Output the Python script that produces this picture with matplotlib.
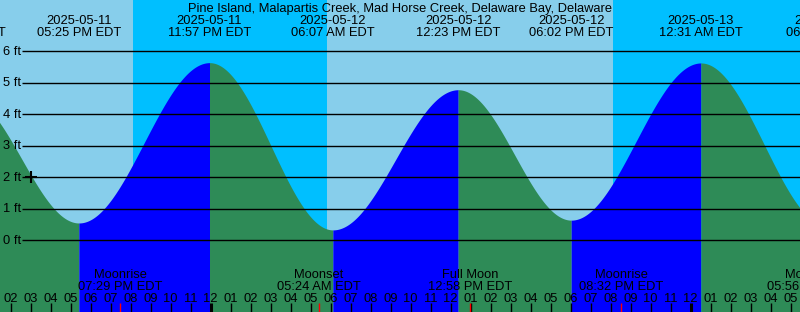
import numpy as np
import pandas as pd
import matplotlib
matplotlib.use('Agg')
import matplotlib.pyplot as plt
import matplotlib.transforms as mtransforms

plt.rcParams['font.family'] = ['Liberation Sans', 'DejaVu Sans']
FS = 9.3

station = 'Pine Island, Malapartis Creek, Mad Horse Creek, Delaware Bay, Delaware'

# tide extremes (high / low)
tide_times = ['2025-05-11 11:43', '2025-05-11 17:25', '2025-05-11 23:57', '2025-05-12 06:07',
              '2025-05-12 12:23', '2025-05-12 18:02', '2025-05-13 00:31', '2025-05-13 06:51']
tide_heights = [4.60, 0.55, 5.64, 0.33, 4.78, 0.64, 5.63, 0.45]

sunsets = ['2025-05-11 20:06', '2025-05-12 20:07']
sunrises = ['2025-05-12 05:50', '2025-05-13 05:49']

moon_times = ['2025-05-11 19:29', '2025-05-12 05:24', '2025-05-12 12:58',
              '2025-05-12 20:32', '2025-05-13 05:56']
moon_names = ['Moonrise', 'Moonset', 'Full Moon', 'Moonrise', 'Moonset']

ft_levels = [0, 1, 2, 3, 4, 5, 6]
now_time = '2025-05-11 15:00'
now_height = 2.0

t0 = pd.Timestamp('2025-05-12 00:00')
W, H = 800, 312
x0px, pxh = 210.5, 20.0      # midnight pixel, pixels per hour
y0px, pxft = 240.3, 31.5     # 0 ft pixel, pixels per foot


def hrs(s):
    return (pd.Timestamp(s) - t0) / pd.Timedelta(hours=1)


def yfrac(p):
    return 1 - p / H


fig = plt.figure(figsize=(W / 100, H / 100), dpi=100)
ax = fig.add_axes([0, 0, 1, 1])
xmin, xmax = -x0px / pxh, (W - x0px) / pxh
ymin, ymax = -(H - y0px) / pxft, y0px / pxft
ax.set_xlim(xmin, xmax)
ax.set_ylim(ymin, ymax)
ax.axis('off')
ax.axvspan(xmin, xmax, color='#87CEEB', lw=0)
for s, r in zip(sunsets, sunrises):
    ax.axvspan(hrs(s), hrs(r), color='#00BFFF', lw=0)

tt = [hrs(s) for s in tide_times]
for i in range(len(tt) - 1):
    t = np.linspace(tt[i], tt[i + 1], 300)
    h1, h2 = tide_heights[i], tide_heights[i + 1]
    h = h2 + (h1 - h2) * (1 + np.cos(np.pi * (t - tt[i]) / (tt[i + 1] - tt[i]))) / 2
    col = '#0000FF' if h2 > h1 else '#2E8B57'
    ax.fill_between(t, ymin, h, color=col, lw=0)

xt = mtransforms.blended_transform_factory(ax.transAxes, ax.transData)
ax.hlines(ft_levels, 22 / W, 1, transform=xt, color='black', lw=1.0)
for v in ft_levels:
    ax.text(3 / W, v - 3.5 / pxft, '%d ft' % v, transform=xt, fontsize=FS, va='baseline', ha='left')

ax.plot(hrs(now_time), now_height, marker='+', color='black', ms=8, mew=1.5)

tr = mtransforms.blended_transform_factory(ax.transData, ax.transAxes)
fig.text(0.5, yfrac(11.7), station, fontsize=FS, ha='center', va='baseline')
for s in tide_times:
    ts = pd.Timestamp(s)
    ax.text(hrs(s), yfrac(24), ts.strftime('%Y-%m-%d'), transform=tr, fontsize=FS,
            ha='center', va='baseline', clip_on=False)
    ax.text(hrs(s), yfrac(36), ts.strftime('%I:%M %p EDT'), transform=tr, fontsize=FS,
            ha='center', va='baseline', clip_on=False)

hours = np.arange(np.floor(xmin), np.ceil(xmax) + 1)
for h in hours:
    lab = (t0 + pd.Timedelta(hours=h)).strftime('%I')
    ax.text(h, yfrac(301.7), lab, transform=tr, fontsize=FS, ha='center', va='baseline')
    lw = 2.2 if h % 24 == 0 else 1.0
    ax.vlines(h, 0, yfrac(303), transform=tr, color='black', lw=lw)

for s, name in zip(moon_times, moon_names):
    ts = pd.Timestamp(s)
    ax.text(hrs(s), yfrac(278.3), name, transform=tr, fontsize=FS, ha='center', va='baseline')
    ax.text(hrs(s), yfrac(290), ts.strftime('%I:%M %p EDT'), transform=tr, fontsize=FS,
            ha='center', va='baseline')
    ax.vlines(hrs(s), 0, yfrac(303), transform=tr, color='red', lw=1.0)

fig.savefig('out.png', dpi=100)
